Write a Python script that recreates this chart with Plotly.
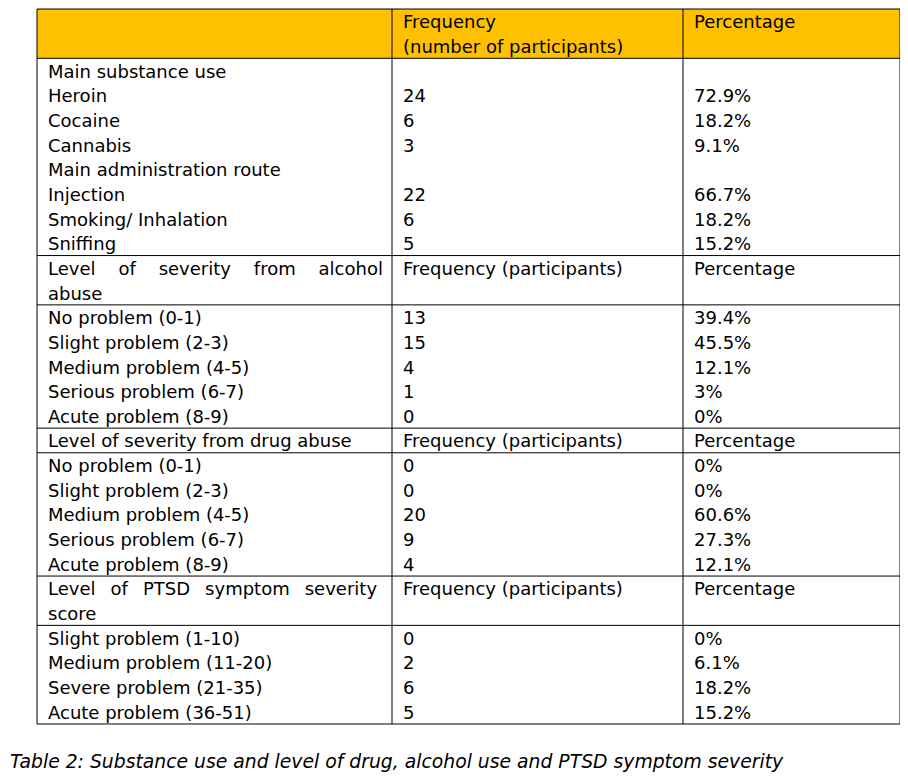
import plotly.graph_objects as go

W, H = 908, 781
PAGE_MARGIN = 8  # default body margin of the html page

# --- table contents ---
header_freq = ["Frequency", "(number of participants)"]
header_pct = ["Percentage"]

substance_title = "Main substance use"
substance_labels = ["Heroin", "Cocaine", "Cannabis"]
substance_freq = [24, 6, 3]
substance_pct = ["72.9%", "18.2%", "9.1%"]

route_title = "Main administration route"
route_labels = ["Injection", "Smoking/ Inhalation", "Sniffing"]
route_freq = [22, 6, 5]
route_pct = ["66.7%", "18.2%", "15.2%"]

section_freq = "Frequency (participants)"
section_pct = "Percentage"

alcohol_title = ["Level of severity from alcohol", "abuse"]
alcohol_labels = ["No problem (0-1)", "Slight problem (2-3)", "Medium problem (4-5)",
                  "Serious problem (6-7)", "Acute problem (8-9)"]
alcohol_freq = [13, 15, 4, 1, 0]
alcohol_pct = ["39.4%", "45.5%", "12.1%", "3%", "0%"]

drug_title = ["Level of severity from drug abuse"]
drug_labels = ["No problem (0-1)", "Slight problem (2-3)", "Medium problem (4-5)",
               "Serious problem (6-7)", "Acute problem (8-9)"]
drug_freq = [0, 0, 20, 9, 4]
drug_pct = ["0%", "0%", "60.6%", "27.3%", "12.1%"]

ptsd_title = ["Level of PTSD symptom severity", "score"]
ptsd_labels = ["Slight problem (1-10)", "Medium problem (11-20)",
               "Severe problem (21-35)", "Acute problem (36-51)"]
ptsd_freq = [0, 2, 6, 5]
ptsd_pct = ["0%", "6.1%", "18.2%", "15.2%"]

caption = "Table 2: Substance use and level of drug, alcohol use and PTSD symptom severity"

# --- layout constants (page pixels) ---
COL_EDGES = [37, 392, 683, 900]
TEXT_PAD = 11
TABLE_TOP = 9
LINE_PX = 24.655
TEXT_SHIFT = 2.5 / LINE_PX
FONT = "DejaVu Sans"


def spread(text, sep):
    # justified look: widen the gaps between words
    return text.replace(" ", sep)


def items(labels, freq, pct):
    return [(l, str(f), p) for l, f, p in zip(labels, freq, pct)]


def section(title_lines):
    rows = []
    for i, t in enumerate(title_lines):
        rows.append((t, section_freq if i == 0 else "", section_pct if i == 0 else ""))
    return rows


blocks = [
    [("", header_freq[0], header_pct[0]), ("", header_freq[1], "")],
    [(substance_title, "", "")] + items(substance_labels, substance_freq, substance_pct)
    + [(route_title, "", "")] + items(route_labels, route_freq, route_pct),
    section([spread(alcohol_title[0], "\u00a0" * 4), alcohol_title[1]]),
    items(alcohol_labels, alcohol_freq, alcohol_pct),
    section(drug_title),
    items(drug_labels, drug_freq, drug_pct),
    section([spread(ptsd_title[0], "\u00a0\u00a0\u2009"), ptsd_title[1]]),
    items(ptsd_labels, ptsd_freq, ptsd_pct),
]

xs, ys, texts = [], [], []
bounds = [0]
line = 0
for block in blocks:
    for row in block:
        for c, t in enumerate(row):
            if t:
                xs.append(COL_EDGES[c] + TEXT_PAD)
                ys.append(line + 0.5 + TEXT_SHIFT)
                texts.append(t)
        line += 1
    bounds.append(line)
n_lines = line

fig = go.Figure()
fig.add_trace(go.Scatter(
    x=xs, y=ys, text=texts, mode="text", textposition="middle right",
    textfont=dict(family=FONT, size=18, color="#000000"),
    hoverinfo="skip", showlegend=False, cliponaxis=False,
))

shapes = [dict(type="rect", xref="x", yref="y", x0=COL_EDGES[0], x1=COL_EDGES[-1],
               y0=bounds[0], y1=bounds[1], fillcolor="#FFC000", line_width=0, layer="below")]
for b in bounds:
    shapes.append(dict(type="line", xref="x", yref="y", x0=COL_EDGES[0], x1=COL_EDGES[-1],
                       y0=b, y1=b, line=dict(color="#000000", width=1)))
for e in COL_EDGES:
    shapes.append(dict(type="line", xref="x", yref="y", x0=e, x1=e,
                       y0=0, y1=n_lines, line=dict(color="#000000", width=1)))

# figure sits at (8, 8) on the page
fig_w, fig_h = W - PAGE_MARGIN, H - PAGE_MARGIN
y_top = (PAGE_MARGIN - TABLE_TOP) / LINE_PX
y_bottom = (H - TABLE_TOP) / LINE_PX

fig.update_layout(
    width=fig_w, height=fig_h,
    margin=dict(l=0, r=0, t=0, b=0),
    paper_bgcolor="white", plot_bgcolor="white",
    xaxis=dict(range=[PAGE_MARGIN, W], visible=False, fixedrange=True),
    yaxis=dict(range=[y_bottom, y_top], visible=False, fixedrange=True),
    shapes=shapes,
    annotations=[dict(
        text=caption, xref="paper", yref="y", x=0, y=(761 - TABLE_TOP) / LINE_PX,
        xanchor="left", yanchor="middle", showarrow=False,
        font=dict(family=FONT, size=18.8, color="#000000", style="italic"),
    )],
)

fig.write_html("out.html")
